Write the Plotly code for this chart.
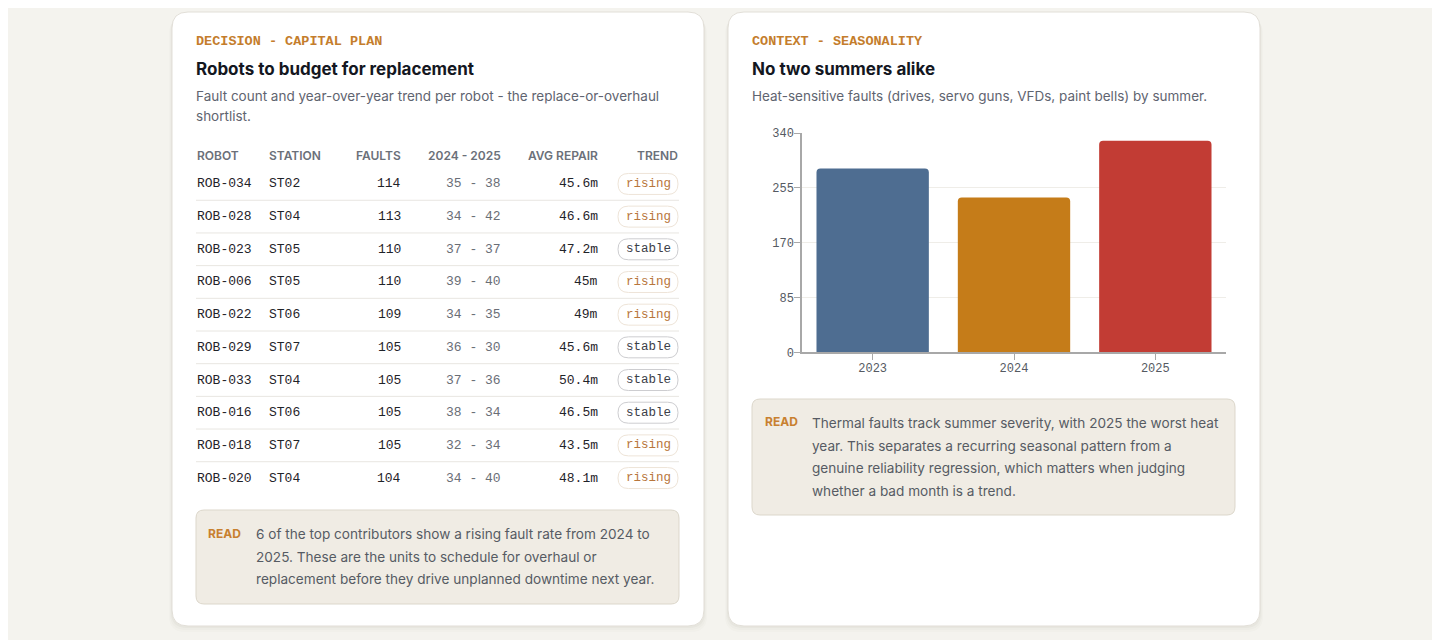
import plotly.graph_objects as go

W, H = 1440, 640

# ---- data ----
robots = ["ROB-034", "ROB-028", "ROB-023", "ROB-006", "ROB-022",
          "ROB-029", "ROB-033", "ROB-016", "ROB-018", "ROB-020"]
stations = ["ST02", "ST04", "ST05", "ST05", "ST06",
            "ST07", "ST04", "ST06", "ST07", "ST04"]
faults = [114, 113, 110, 110, 109, 105, 105, 105, 105, 104]
faults_2024 = [35, 34, 37, 39, 34, 36, 37, 38, 32, 34]
faults_2025 = [38, 42, 37, 40, 35, 30, 36, 34, 34, 40]
avg_repair = [45.6, 46.6, 47.2, 45, 49, 45.6, 50.4, 46.5, 43.5, 48.1]
trend = ["rising", "rising", "stable", "rising", "rising",
         "stable", "stable", "stable", "rising", "rising"]

summers = ["2023", "2024", "2025"]
heat_faults = [285, 240, 328]
summer_colors = ["#4e6d91", "#c57c19", "#c23c34"]
y_ticks = [0, 85, 170, 255, 340]

# ---- styles ----
BG = "#f4f3ee"
ORANGE = "#c47d2c"
SANS = "Inter, 'Noto Sans', sans-serif"
MONO = "'Liberation Mono', 'DejaVu Sans Mono', monospace"

# the page puts the figure 8px in from the top-left corner
OFF = 8


def px(x):
    return (x - OFF) / W


def py(y):
    return 1 - (y - OFF) / H


def rrect(x0, y0, x1, y1, r, fx=px, fy=py, ry=None):
    ry = r if ry is None else ry
    pts = [
        ("M", (x0 + r, y0)), ("L", (x1 - r, y0)),
        ("Q", (x1, y0), (x1, y0 + ry)), ("L", (x1, y1 - ry)),
        ("Q", (x1, y1), (x1 - r, y1)), ("L", (x0 + r, y1)),
        ("Q", (x0, y1), (x0, y1 - ry)), ("L", (x0, y0 + ry)),
        ("Q", (x0, y0), (x0 + r, y0)),
    ]
    out = []
    for cmd, *ps in pts:
        out.append(cmd + " " + " ".join(f"{fx(a):.5f},{fy(b):.5f}" for a, b in ps))
    return " ".join(out) + " Z"


fig = go.Figure()
shapes = []
annotations = []


def text(x, y, s, size=14, color="#5f6470", family=SANS, weight=400, anchor="left"):
    annotations.append(dict(
        x=px(x), y=py(y), xref="paper", yref="paper", text=s, showarrow=False,
        xanchor=anchor, yanchor="middle", borderpad=0, borderwidth=0,
        font=dict(family=family, size=size, color=color, weight=weight)))


# card shadows + cards
for cx0, cx1 in [(172, 704), (728, 1260)]:
    for k, a in [(6, 0.015), (4, 0.02), (2, 0.03)]:
        shapes.append(dict(type="path", path=rrect(cx0 - k / 2, 12 + k, cx1 + k / 2, 626 + k, 16),
                           xref="paper", yref="paper", fillcolor=f"rgba(60,50,30,{a})",
                           line=dict(width=0), layer="below"))
    shapes.append(dict(type="path", path=rrect(cx0, 12, cx1, 626, 16), xref="paper", yref="paper",
                       fillcolor="#ffffff", line=dict(color="#e2dfd8", width=1), layer="below"))

# ---- left card: header texts ----
text(196, 42, "DECISION - CAPITAL PLAN", size=13.5, color=ORANGE, family=MONO, weight=700)
text(196, 69, "Robots to budget for replacement", size=17, color="#14171f", weight=700)
text(196, 96, "Fault count and year-over-year trend per robot - the replace-or-overhaul", size=13.5)
text(196, 116, "shortlist.", size=13.5)

headers = [("ROBOT", 197, "left"), ("STATION", 269, "left"), ("FAULTS", 401, "right"),
           ("2024 - 2025", 501, "right"), ("AVG REPAIR", 598, "right"), ("TREND", 678, "right")]
for label, x, anc in headers:
    text(x, 155, label, size=12, color="#6b7079", weight=600, anchor=anc)

# table rows on a hidden axis: x in px units, y in row index
ROW_TOP, ROW_PITCH = 167.6, 32.68
n = len(robots)
row_cells = [
    (robots, 197, "left", "#1f2329"),
    (stations, 269, "left", "#1f2329"),
    ([str(v) for v in faults], 401, "right", "#1f2329"),
    ([f"{a} - {b}" for a, b in zip(faults_2024, faults_2025)], 501, "right", "#6a6e76"),
    ([f"{v:g}m" for v in avg_repair], 598, "right", "#1f2329"),
]
for vals, x, anc, col in row_cells:
    for i, v in enumerate(vals):
        annotations.append(dict(x=x, y=i, xref="x2", yref="y2", text=v, showarrow=False,
                                xanchor=anc, yanchor="middle", borderpad=0, borderwidth=0,
                                font=dict(family=MONO, size=13, color=col)))

pill_ry = 10.5 / ROW_PITCH
for i, t in enumerate(trend):
    rising = t == "rising"
    shapes.append(dict(type="path", xref="x2", yref="y2",
                       path=rrect(618, i - pill_ry, 678, i + pill_ry, 10.5,
                                  fx=lambda v: v, fy=lambda v: v, ry=pill_ry),
                       fillcolor="#ffffff",
                       line=dict(color="#eee4d8" if rising else "#cdcdd0", width=1)))
    annotations.append(dict(x=648, y=i, xref="x2", yref="y2", text=t, showarrow=False,
                            xanchor="center", yanchor="middle", borderpad=0, borderwidth=0,
                            font=dict(family=MONO, size=12.5,
                                      color="#b8763c" if rising else "#3c4048")))

for i in range(n - 1):
    shapes.append(dict(type="line", xref="x2", yref="y2", x0=196, x1=679, y0=i + 0.5, y1=i + 0.5,
                       line=dict(color="#e8e6e1", width=1)))

# left READ box
shapes.append(dict(type="path", path=rrect(196, 510, 679, 604, 8), xref="paper", yref="paper",
                   fillcolor="#f0ece4", line=dict(color="#dcd7cb", width=1)))
text(208, 533, "READ", size=12, color="#c8802f", weight=700)
for k, line in enumerate(["6 of the top contributors show a rising fault rate from 2024 to",
                          "2025. These are the units to schedule for overhaul or",
                          "replacement before they drive unplanned downtime next year."]):
    text(256, 534 + k * 22.5, line, size=13.6, color="#565b63")

# ---- right card ----
text(752, 42, "CONTEXT - SEASONALITY", size=13.5, color=ORANGE, family=MONO, weight=700)
text(752, 69, "No two summers alike", size=17, color="#14171f", weight=700)
text(752, 96, "Heat-sensitive faults (drives, servo guns, VFDs, paint bells) by summer.", size=13.5)

fig.add_trace(go.Bar(
    x=summers, y=heat_faults, marker=dict(color=summer_colors, cornerradius=4, line=dict(width=0)),
    width=0.795, xaxis="x", yaxis="y", hovertemplate="%{x}: %{y}<extra></extra>"))

shapes.append(dict(type="path", path=rrect(752, 399, 1235, 515, 8), xref="paper", yref="paper",
                   fillcolor="#f0ece4", line=dict(color="#dcd7cb", width=1)))
text(765, 421, "READ", size=12, color="#c8802f", weight=700)
for k, line in enumerate(["Thermal faults track summer severity, with 2025 the worst heat",
                          "year. This separates a recurring seasonal pattern from a",
                          "genuine reliability regression, which matters when judging",
                          "whether a bad month is a trend."]):
    text(812, 423 + k * 22.7, line, size=13.6, color="#565b63")

fig.update_layout(
    width=W, height=H, margin=dict(l=0, r=0, t=0, b=0, autoexpand=False),
    paper_bgcolor=BG, plot_bgcolor="rgba(0,0,0,0)", showlegend=False,
    shapes=shapes, annotations=annotations,
    xaxis=dict(domain=[px(802), px(1226)], type="category", showline=True, linecolor="#a8a8a8",
               linewidth=1.5, ticks="outside", ticklen=6, tickcolor="#a8a8a8", showgrid=False,
               ticklabelstandoff=-2,
               tickfont=dict(family=MONO, size=12, color="#555a62"), fixedrange=True),
    yaxis=dict(domain=[py(352.3), py(133)], range=[0, 340], tickvals=y_ticks, showline=True,
               linecolor="#a8a8a8", linewidth=1.5, ticks="outside", ticklen=6, tickcolor="#a8a8a8",
               gridcolor="#efede8", zeroline=False, ticklabelstandoff=-2,
               tickfont=dict(family=MONO, size=12, color="#555a62"), fixedrange=True),
    xaxis2=dict(domain=[px(196), px(679)], range=[196, 679], anchor="y2", visible=False,
                fixedrange=True),
    yaxis2=dict(domain=[py(ROW_TOP + n * ROW_PITCH), py(ROW_TOP)], range=[n - 0.5, -0.5],
                anchor="x2", visible=False, fixedrange=True),
)

fig.write_html("out.html")
